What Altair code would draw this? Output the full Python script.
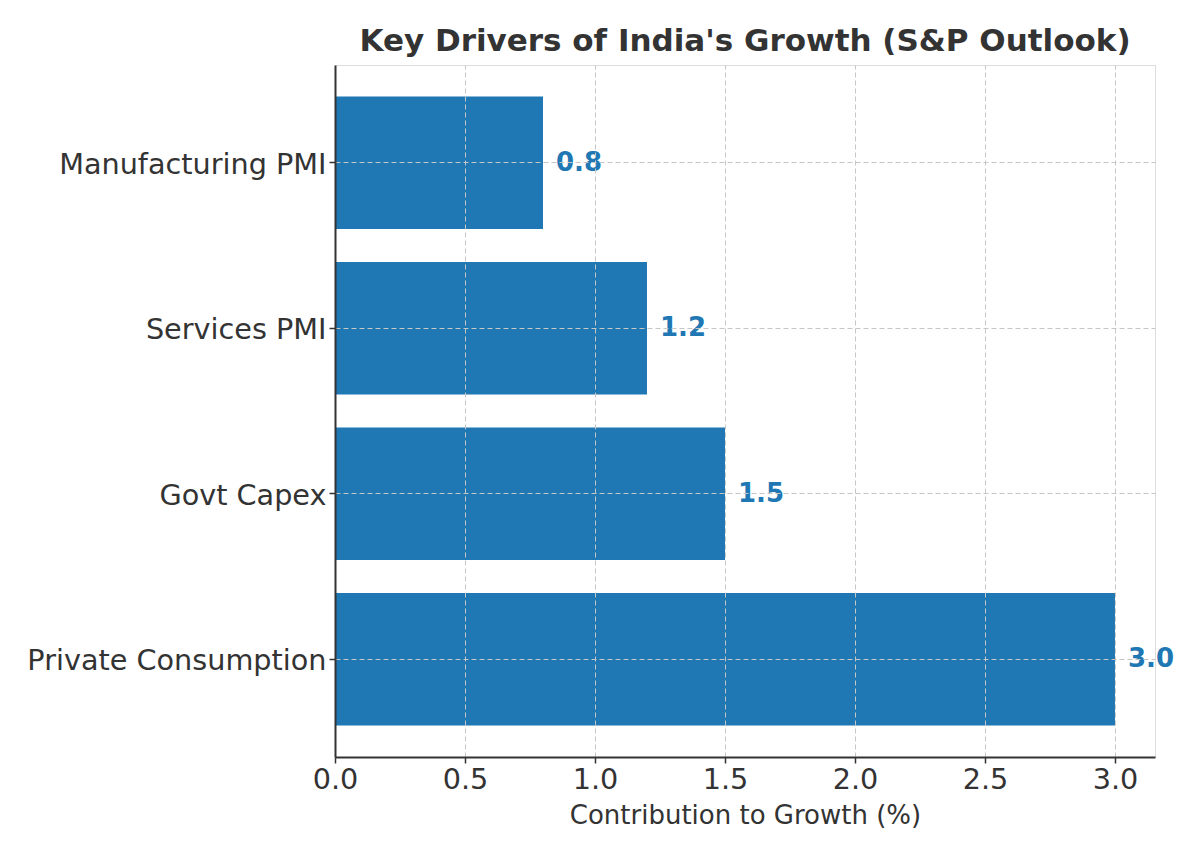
import altair as alt
import pandas as pd

categories = ["Private Consumption", "Govt Capex", "Services PMI", "Manufacturing PMI"]
values = [3.0, 1.5, 1.2, 0.8]
x_ticks = [0.0, 0.5, 1.0, 1.5, 2.0, 2.5, 3.0]

df = pd.DataFrame({"driver": categories, "value": values})
order = categories[::-1]

FONT = "DejaVu Sans"
DARK = "#333333"
BLUE = "#1f77b4"

base = alt.Chart(df).encode(
    y=alt.Y(
        "driver:N",
        sort=order,
        scale=alt.Scale(paddingInner=0.2, paddingOuter=0.19),
        axis=alt.Axis(
            title=None,
            labelFont=FONT, labelFontSize=28.7, labelColor=DARK, labelPadding=3,
            labelOffset=2,
            domainColor=DARK, domainWidth=2,
            tickColor=DARK, tickWidth=1.5, tickSize=6,
            grid=True, gridColor="#c6c6c6", gridDash=[5, 3], gridWidth=1,
            bandPosition=0.5, zindex=1, labelLimit=400,
        ),
    ),
    x=alt.X(
        "value:Q",
        scale=alt.Scale(domain=[0, 3.154], nice=False, zero=True),
        axis=alt.Axis(
            values=x_ticks, format=".1f",
            title="Contribution to Growth (%)",
            titleFont=FONT, titleFontSize=26, titleFontWeight="normal", titleColor=DARK,
            titlePadding=9,
            labelFont=FONT, labelFontSize=28.7, labelColor=DARK, labelPadding=2,
            labelFlush=False,
            domainColor=DARK, domainWidth=2,
            tickColor=DARK, tickWidth=1.5, tickSize=6,
            grid=True, gridColor="#c6c6c6", gridDash=[5, 3], gridWidth=1,
            zindex=1,
        ),
    ),
)

bars = base.mark_bar(color=BLUE)
text = base.mark_text(
    align="left", baseline="middle", dx=13,
    font=FONT, fontSize=26, fontWeight="bold", color=BLUE,
).encode(text=alt.Text("value:Q", format=".1f"))

chart = (
    alt.layer(bars, text)
    .properties(
        width=820,
        height=692,
        title=alt.TitleParams(
            "Key Drivers of India's Growth (S&P Outlook)",
            font=FONT, fontSize=31, fontWeight="bold", color=DARK,
            anchor="middle", offset=7,
        ),
        autosize=alt.AutoSizeParams(type="none"),
        padding={"left": 335, "top": 65, "right": 45, "bottom": 100},
    )
    .configure_view(fill="#f8f9fb", stroke="transparent", strokeWidth=0)
    .configure(background="white")
)

chart.save("out.html", embed_options={"renderer": "svg", "actions": False})
